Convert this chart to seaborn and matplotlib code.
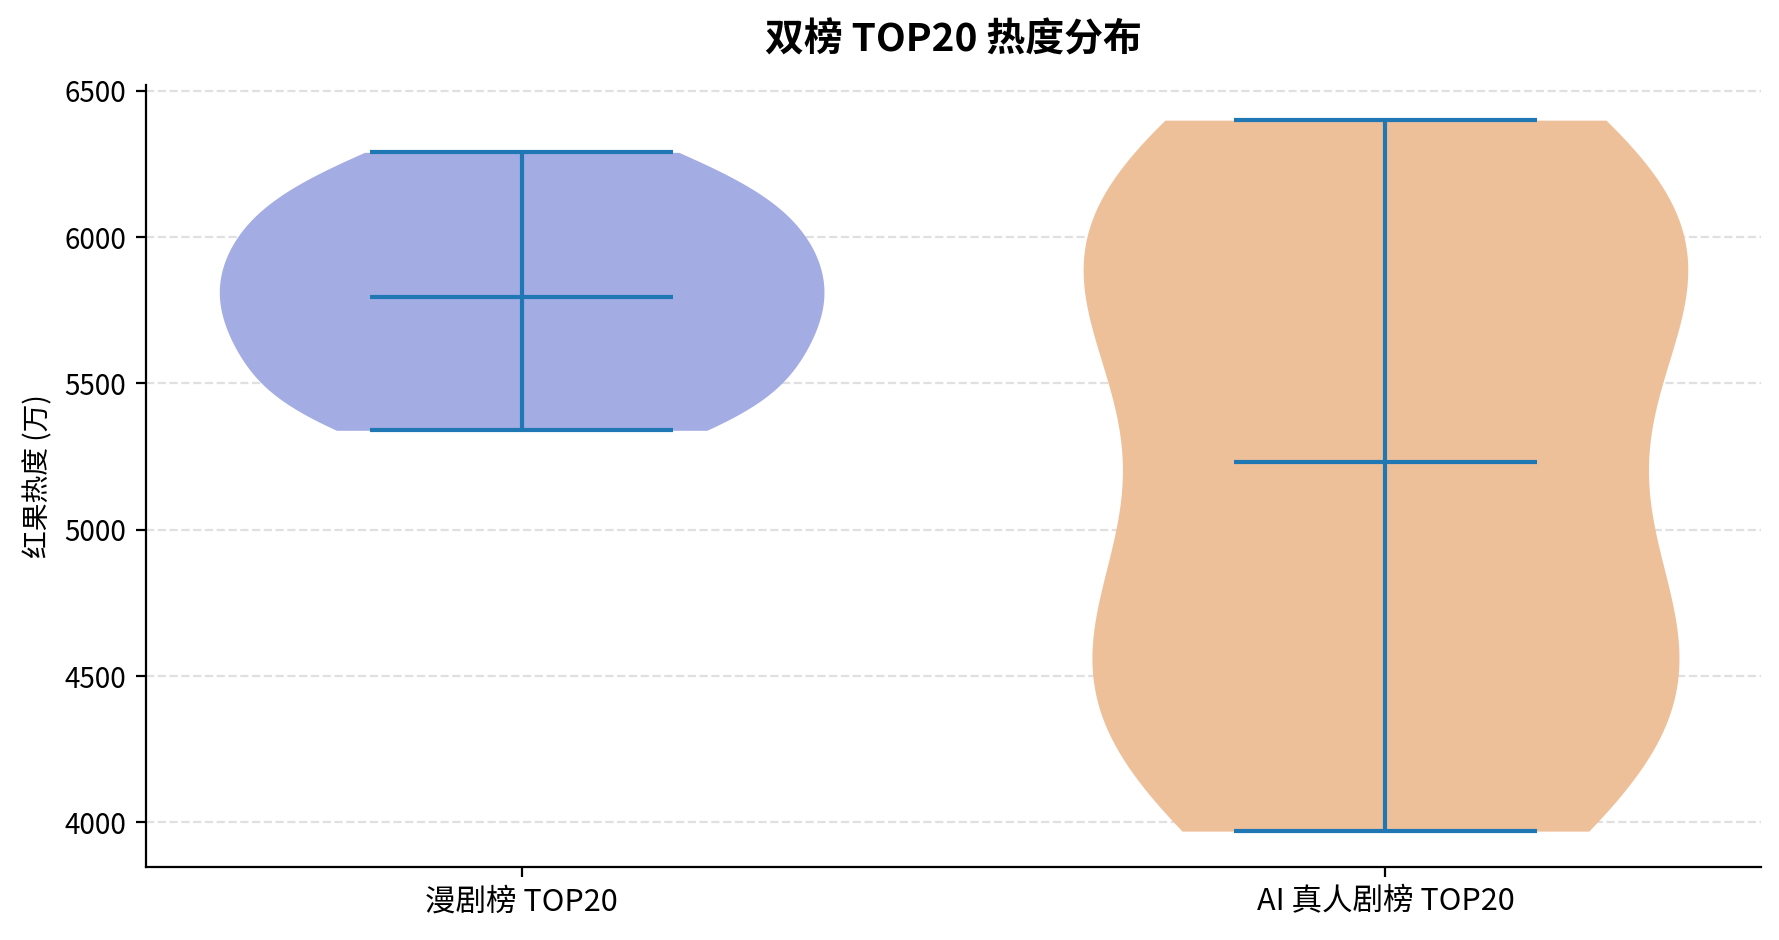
import matplotlib.pyplot as plt
import seaborn as sns
import numpy as np
import pandas as pd

categories = ['漫剧榜 TOP20', 'AI 真人剧榜 TOP20']
manju_heat = [5340, 5350, 5390, 5450, 5520, 5580, 5630, 5680, 5730, 5765,
              5825, 5870, 5915, 5965, 6015, 6070, 6125, 6185, 6240, 6290]
ai_heat = [3970, 4000, 4130, 4300, 4450, 4550, 4630, 4720, 4870, 5130,
           5330, 5500, 5700, 5850, 5920, 6000, 6080, 6250, 6360, 6400]
yticks = [4000, 4500, 5000, 5500, 6000, 6500]

sns.set_style('white')
plt.rcParams['font.family'] = ['Noto Sans CJK SC', 'DejaVu Sans']
plt.rcParams['axes.unicode_minus'] = False
plt.rcParams['text.color'] = 'black'
plt.rcParams['xtick.color'] = 'black'
plt.rcParams['ytick.color'] = 'black'
plt.rcParams['axes.labelcolor'] = 'black'
plt.rcParams['axes.edgecolor'] = 'black'

df = pd.DataFrame({
    'board': [categories[0]] * len(manju_heat) + [categories[1]] * len(ai_heat),
    'heat': manju_heat + ai_heat,
})

fig, ax = plt.subplots(figsize=(8.895, 4.7), dpi=200)
fig.subplots_adjust(left=0.082, right=0.99, bottom=0.078, top=0.91)

sns.violinplot(data=df, x='board', y='heat', hue='board', order=categories,
               palette={categories[0]: '#a3ace3', categories[1]: '#eec09a'},
               cut=0, inner=None, density_norm='width', width=0.7,
               linewidth=0, saturation=1, legend=False, ax=ax)

# 极值线和中位数线
for i, vals in enumerate([manju_heat, ai_heat]):
    lo, hi, med = np.min(vals), np.max(vals), np.median(vals)
    ax.vlines(i, lo, hi, color='#1f77b4', lw=1.5, zorder=3)
    ax.hlines([lo, hi, med], i - 0.175, i + 0.175, color='#1f77b4', lw=1.5, zorder=3)

ax.set_xlim(-0.435, 1.435)
ax.set_ylim(3848.5, 6521.5)
ax.set_yticks(yticks)
ax.grid(axis='y', linestyle='--', color='#cccccc', alpha=0.6, lw=0.8)
ax.set_axisbelow(True)
ax.tick_params(axis='x', labelsize=11, length=3.5, bottom=True)
ax.tick_params(axis='y', labelsize=10, length=3.5, left=True)
ax.set_xlabel('')
ax.set_ylabel('红果热度 (万)', fontsize=10)
ax.set_title('双榜 TOP20 热度分布', fontsize=14, fontweight='bold', pad=12)
sns.despine(ax=ax)

fig.savefig('out.png', dpi=200)
